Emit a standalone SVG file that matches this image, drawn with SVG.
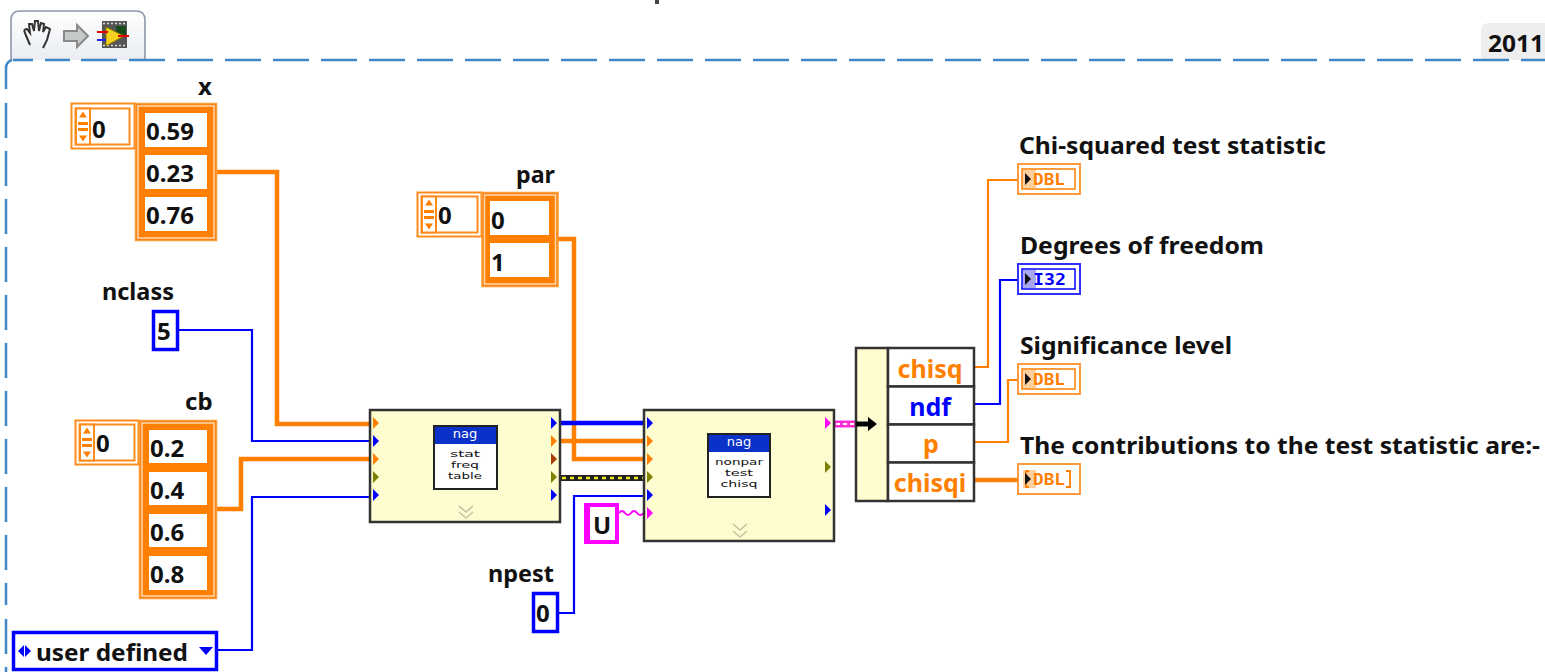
<svg xmlns="http://www.w3.org/2000/svg" width="1545" height="672" viewBox="0 0 1545 672">
<style>
text{font-family:"Noto Sans","Liberation Sans",sans-serif;font-weight:700;font-size:24px;fill:#111}
.o{fill:none;stroke:#ff7f00}
.b{fill:none;stroke:#0000ff}
.w2{stroke-width:2.2}
.w4{stroke-width:4.5}
.thin{fill:#fff;stroke:#ff8c1a;stroke-width:2}
.cell{fill:#fff}
.fr{fill:#ff7f00;stroke:#ff9a3c;stroke-width:1.5}
.vi{fill:#fdfdd0;stroke:#333;stroke-width:2.5}
.ic{fill:#fff;stroke:#222;stroke-width:2}
.hd{fill:#0a32c8}
.nag{fill:#fff;font-size:13px;font-family:"DejaVu Sans",sans-serif;font-weight:400;text-anchor:middle}
.ict{font-size:9px;font-family:"DejaVu Sans",sans-serif;font-weight:400;text-anchor:middle}
.chev{fill:none;stroke:#c4c4a4;stroke-width:1.6}
.row{fill:#fff;stroke:#333;stroke-width:2.5}
.ol{font-size:25px;fill:#ff7f00;text-anchor:middle}
.bl{font-size:25px;fill:#0000ff;text-anchor:middle}
.dt{font-size:15px;font-family:"DejaVu Sans Mono",monospace;fill:#ff7f00}
</style>
<defs>
<polygon id="t" points="0,-6 6,0 0,6"/>
<g id="spin"><rect x="0" y="0" width="14" height="36" fill="#fff" stroke="#ff8c1a" stroke-width="2"/><path d="M7,3l4,6h-8zM7,33l4,-6h-8z" fill="#ff7f00"/><path d="M2,15h10M2,21h10" stroke="#ff7f00" stroke-width="3"/></g>
<linearGradient id="tab" x1="0" y1="0" x2="0" y2="1"><stop offset="0" stop-color="#ffffff"/><stop offset="1" stop-color="#e9edf1"/></linearGradient>
</defs>

<rect x="655" y="0" width="4" height="4" fill="#444"/>

<g id="tab-bar">
<path d="M11,60V20Q11,11 20,11H136Q145,11 145,20V60" fill="url(#tab)" stroke="#8d97ab" stroke-width="1.600"/>
<path d="M30,45L25,33Q23,29 27,29L30,33L29,24L32,24L34,31L35,21L38,21L39,31L41,23L44,24L43,32L46,27L50,29L47,40L43,48" fill="none" stroke="#333" stroke-width="2"/>
<path d="M64,31H77V25L88,36L77,47V41H64Z" fill="#c6cac6" stroke="#888" stroke-width="2"/>
<rect x="102" y="21" width="25" height="27" fill="#555"/>
<path d="M103,23.500H126M103,45.500H126" stroke="#ddd" stroke-width="1.500" stroke-dasharray="2 2"/>
<rect x="116" y="26" width="10" height="10" fill="#164a16"/>
<polygon points="106,27 124,36 106,46" fill="#f5d21f" stroke="#8a7400"/>
<path d="M97,32h11M118,36h11" stroke="#e00" stroke-width="2"/><path d="M97,40h9" stroke="#22f" stroke-width="2"/>
</g>
<g id="year-tab">
<path d="M1481,60V31Q1481,23 1489,23H1545V60Z" fill="#eeeeee"/>
<text x="1488" y="52" textLength="56" lengthAdjust="spacingAndGlyphs">2011</text>
</g>
<g id="boundary" fill="none" stroke="#3f87c6" stroke-width="2.500">
<path d="M129,60H1545" stroke-dasharray="36 12"/>
<path d="M6,68Q6,62 12,60"/>
<path d="M13,60H33M45,60H70M81,60H117" stroke-dasharray="none"/>
<path d="M6,67V672" stroke-dasharray="22 14 35 13 35 13 35 13 35 13 35 13 35 13 35 13 35 13 35 13 35 13"/>
</g>

<g id="connectors">
<path class="o w4" d="M217,172H277V424H370"/>
<path class="b w2" d="M178,330H252V441H370"/>
<path class="o w4" d="M217,509H241V459H370"/>
<path class="b w2" d="M218,650H252V497H370"/>
<path class="o w4" d="M558,239H574V459H644"/>
<path class="b" stroke-width="4.500" d="M560,423H644"/>
<path class="o w4" d="M560,441H644"/>
<path d="M560,478H644" stroke="#222" stroke-width="6" fill="none"/>
<path d="M562,478H644" stroke="#f3e81e" stroke-width="2.400" stroke-dasharray="4 4" fill="none"/>
<path class="b w2" d="M558,613H574V496H644"/>
<path d="M619,513q3,-4 6,0t6,0t6,0t7,0" stroke="#ff00ff" stroke-width="2" fill="none"/>
<path d="M834,424H856" stroke="#ff2bd6" stroke-width="7" fill="none"/>
<path d="M836,424H856" stroke="#fff" stroke-width="2" stroke-dasharray="4 3" fill="none"/>
<path class="o w2" d="M974,367H988V180H1018"/>
<path class="b w2" d="M974,404H1000V280H1018"/>
<path class="o w2" d="M974,442H1008V380H1018"/>
<path class="o w4" d="M974,480H1018"/>
</g>

<g id="x">
<text x="198" y="95">x</text>
<rect class="thin" x="71.500" y="103.500" width="63" height="45"/>
<rect class="thin" x="75.500" y="108.500" width="54" height="36"/>
<use href="#spin" x="76" y="108.500"/>
<text x="92" y="138">0</text>
<rect class="fr" x="135.500" y="103.500" width="81" height="137"/>
<rect x="138" y="106" width="76" height="132" fill="none" stroke="#ffd9b3" stroke-width="1.500"/>
<rect class="cell" x="145" y="113" width="62" height="34"/>
<rect class="cell" x="145" y="155" width="62" height="34"/>
<rect class="cell" x="145" y="197" width="62" height="34"/>
<text x="146" y="140">0.59</text><text x="146" y="182">0.23</text><text x="146" y="224">0.76</text>
</g>

<g id="nclass">
<text x="102" y="300" textLength="72" lengthAdjust="spacingAndGlyphs">nclass</text>
<rect x="153.500" y="311.500" width="24" height="38" fill="#fff" stroke="#0000ff" stroke-width="3.500"/>
<text x="157" y="340">5</text>
</g>

<g id="cb">
<text x="185" y="410">cb</text>
<rect class="thin" x="75.500" y="420.500" width="63" height="44"/>
<rect class="thin" x="79.500" y="424.500" width="55" height="36"/>
<use href="#spin" x="80" y="424.500"/>
<text x="96" y="452">0</text>
<rect class="fr" x="139.500" y="420.500" width="77" height="178"/>
<rect x="142" y="423" width="72" height="173" fill="none" stroke="#ffd9b3" stroke-width="1.500"/>
<rect class="cell" x="149" y="430" width="58" height="33"/>
<rect class="cell" x="149" y="472" width="58" height="33"/>
<rect class="cell" x="149" y="514" width="58" height="33"/>
<rect class="cell" x="149" y="556" width="58" height="34"/>
<text x="150" y="457">0.2</text><text x="150" y="499">0.4</text><text x="150" y="541">0.6</text><text x="150" y="583">0.8</text>
</g>

<g id="method">
<rect x="13.500" y="632.500" width="203" height="37" fill="#fff" stroke="#0000ff" stroke-width="3.500"/>
<path d="M18,651l6,-6v12zM25,645l6,6l-6,6z" fill="#0000ff"/>
<text x="36" y="661" textLength="152" lengthAdjust="spacingAndGlyphs">user defined</text>
<path d="M199,647h14l-7,8z" fill="#0000ff"/>
</g>

<g id="par">
<text x="516" y="183" textLength="39" lengthAdjust="spacingAndGlyphs">par</text>
<rect class="thin" x="417.500" y="192.500" width="64" height="44"/>
<rect class="thin" x="421.500" y="196.500" width="56" height="36"/>
<use href="#spin" x="422" y="196.500"/>
<text x="438" y="224">0</text>
<rect class="fr" x="482" y="192.500" width="76" height="94"/>
<rect x="484.500" y="195" width="71" height="89" fill="none" stroke="#ffd9b3" stroke-width="1.500"/>
<rect class="cell" x="490" y="201" width="59" height="34"/>
<rect class="cell" x="490" y="243" width="59" height="34"/>
<text x="491" y="229">0</text><text x="491" y="271">1</text>
</g>

<g id="stat-freq-table">
<rect class="vi" x="370" y="410" width="190" height="112"/>
<rect class="ic" x="434" y="426" width="63" height="63"/>
<rect class="hd" x="435" y="427" width="61" height="17"/>
<text class="nag" x="465" y="438">nag</text>
<text class="ict" x="465" y="457" textLength="30" lengthAdjust="spacingAndGlyphs">stat</text><text class="ict" x="465" y="468" textLength="28" lengthAdjust="spacingAndGlyphs">freq</text><text class="ict" x="465" y="479" textLength="34" lengthAdjust="spacingAndGlyphs">table</text>
<path class="chev" d="M459,506l7,6l7,-6M459,512l7,6l7,-6"/>
<use href="#t" x="373" y="423" fill="#ff7f00"/><use href="#t" x="373" y="441" fill="#0000ff"/><use href="#t" x="373" y="459" fill="#ff7f00"/><use href="#t" x="373" y="477" fill="#808000"/><use href="#t" x="373" y="495" fill="#0000ff"/>
<use href="#t" x="551" y="423" fill="#0000ff"/><use href="#t" x="551" y="441" fill="#ff7f00"/><use href="#t" x="551" y="459" fill="#a83c0a"/><use href="#t" x="551" y="477" fill="#808000"/><use href="#t" x="551" y="495" fill="#0000ff"/>
</g>

<g id="nonpar-test-chisq">
<rect class="vi" x="644" y="410" width="190" height="131"/>
<rect class="ic" x="708" y="434" width="62" height="63"/>
<rect class="hd" x="709" y="435" width="60" height="17"/>
<text class="nag" x="739" y="446">nag</text>
<text class="ict" x="739" y="465" textLength="48" lengthAdjust="spacingAndGlyphs">nonpar</text><text class="ict" x="739" y="476" textLength="28" lengthAdjust="spacingAndGlyphs">test</text><text class="ict" x="739" y="487" textLength="37" lengthAdjust="spacingAndGlyphs">chisq</text>
<path class="chev" d="M733,524l7,6l7,-6M733,531l7,6l7,-6"/>
<use href="#t" x="647" y="423" fill="#0000ff"/><use href="#t" x="647" y="441" fill="#ff7f00"/><use href="#t" x="647" y="459" fill="#ff7f00"/><use href="#t" x="647" y="477" fill="#808000"/><use href="#t" x="647" y="495" fill="#0000ff"/><use href="#t" x="647" y="513" fill="#ff00ff"/>
<use href="#t" x="825" y="423" fill="#ff00ff"/><use href="#t" x="825" y="467" fill="#808000"/><use href="#t" x="825" y="510" fill="#0000ff"/>
</g>

<g id="u-const">
<rect x="586" y="505" width="31" height="37" fill="#fff" stroke="#ff00ff" stroke-width="4"/>
<rect x="584" y="503" width="6" height="41" fill="#ff00ff"/>
<text x="593" y="534">U</text>
</g>

<g id="npest">
<text x="488" y="582" textLength="66" lengthAdjust="spacingAndGlyphs">npest</text>
<rect x="533.500" y="593.500" width="24" height="38" fill="#fff" stroke="#0000ff" stroke-width="3.500"/>
<text x="536" y="622">0</text>
</g>

<g id="unbundle">
<rect x="856" y="348" width="32" height="153" fill="#fdfdd0" stroke="#333" stroke-width="2.500"/>
<rect class="row" x="888" y="348" width="86" height="38.500"/>
<rect class="row" x="888" y="386.500" width="86" height="38"/>
<rect class="row" x="888" y="424.500" width="86" height="38"/>
<rect class="row" x="888" y="462.500" width="86" height="38.500"/>
<path d="M856,424H869" stroke="#000" stroke-width="5"/><path d="M868,417l9,7l-9,7z" fill="#000"/>
<text class="ol" x="930" y="378">chisq</text>
<text class="bl" x="930" y="416">ndf</text>
<text class="ol" x="931" y="453">p</text>
<text class="ol" x="930" y="492">chisqi</text>
</g>

<g id="chi-squared">
<text x="1019" y="154" textLength="307" lengthAdjust="spacingAndGlyphs">Chi-squared test statistic</text>
<rect x="1018" y="164" width="62" height="30" fill="#fff" stroke="#ff9a3c" stroke-width="2"/>
<rect x="1022" y="169" width="53" height="20" fill="none" stroke="#ff7f00" stroke-width="1.500"/>
<rect x="1023" y="170" width="13" height="18" fill="#ffcf9f"/>
<path d="M1025,173l6,6l-6,6z" fill="#111"/>
<text class="dt" x="1033" y="185" style="font-weight:700" textLength="32" lengthAdjust="spacingAndGlyphs">DBL</text>
</g>

<g id="degrees">
<text x="1020" y="254" textLength="244" lengthAdjust="spacingAndGlyphs">Degrees of freedom</text>
<rect x="1018" y="264" width="62" height="30" fill="#fff" stroke="#3030ff" stroke-width="2"/>
<rect x="1022" y="269" width="53" height="20" fill="none" stroke="#0000ff" stroke-width="1.500"/>
<rect x="1023" y="270" width="13" height="18" fill="#a8a8f0"/>
<path d="M1025,273l6,6l-6,6z" fill="#111"/>
<text class="dt" x="1033" y="285" style="font-weight:700;fill:#0000ff" textLength="33" lengthAdjust="spacingAndGlyphs">I32</text>
</g>

<g id="significance">
<text x="1020" y="354" textLength="212" lengthAdjust="spacingAndGlyphs">Significance level</text>
<rect x="1018" y="364" width="62" height="30" fill="#fff" stroke="#ff9a3c" stroke-width="2"/>
<rect x="1022" y="369" width="53" height="20" fill="none" stroke="#ff7f00" stroke-width="1.500"/>
<rect x="1023" y="370" width="13" height="18" fill="#ffcf9f"/>
<path d="M1025,373l6,6l-6,6z" fill="#111"/>
<text class="dt" x="1033" y="385" style="font-weight:700" textLength="32" lengthAdjust="spacingAndGlyphs">DBL</text>
</g>

<g id="contributions">
<text x="1020" y="454" textLength="520" lengthAdjust="spacingAndGlyphs">The contributions to the test statistic are:-</text>
<rect x="1018" y="464" width="62" height="30" fill="#fff" stroke="#ff9a3c" stroke-width="2"/>
<rect x="1023" y="470" width="13" height="18" fill="#ffcf9f"/>
<path d="M1029,471h-3v16h3M1066,471h4v16h-4" fill="none" stroke="#ff7f00" stroke-width="1.800"/>
<path d="M1025,473l6,6l-6,6z" fill="#111"/>
<text class="dt" x="1033" y="485" style="font-weight:700" textLength="32" lengthAdjust="spacingAndGlyphs">DBL</text>
</g>
</svg>
